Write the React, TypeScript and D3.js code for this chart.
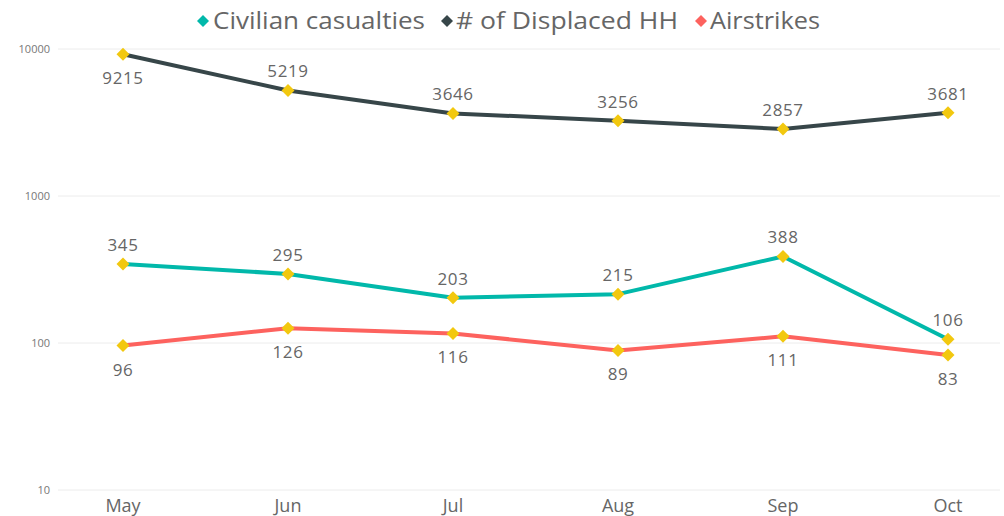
import React from "react";
import * as d3 from "d3";

const months = ["May", "Jun", "Jul", "Aug", "Sep", "Oct"];
const civilian = [345, 295, 203, 215, 388, 106];
const displaced = [9215, 5219, 3646, 3256, 2857, 3681];
const airstrikes = [96, 126, 116, 89, 111, 83];
const yTicks = [10, 100, 1000, 10000];

const seriesNames = ["Civilian casualties", "# of Displaced HH", "Airstrikes"];
const seriesColors = ["#01B8AA", "#374649", "#FD625E"];
const markerColor = "#F2C80F";

const W = 1004, H = 516;
const FONT = "'Segoe UI', 'Open Sans', 'Noto Sans', sans-serif";

export default function App() {
  const x = d3.scalePoint<string>().domain(months).range([123, 948]);
  const y = d3.scaleLog().domain([10, 10000]).range([490, 49]);
  const line = d3.line<number>().x((_, i) => x(months[i])!).y((d) => y(d));

  const series = [
    { name: seriesNames[0], color: seriesColors[0], data: civilian, pos: (i: number) => "above" },
    { name: seriesNames[1], color: seriesColors[1], data: displaced, pos: (i: number) => (i === 0 ? "below" : "above") },
    { name: seriesNames[2], color: seriesColors[2], data: airstrikes, pos: (i: number) => "below" },
  ];

  const diamond = (cx: number, cy: number, r: number) =>
    `M${cx},${cy - r}L${cx + r},${cy}L${cx},${cy + r}L${cx - r},${cy}Z`;

  const legendItems = [
    { x: 203, textX: 213, len: 212 },
    { x: 447, textX: 456, len: 222 },
    { x: 701, textX: 710, len: 110 },
  ];

  return (
    <div style={{ position: "absolute", left: 0, top: 0 }}>
      <svg width={W} height={H} style={{ display: "block", fontFamily: FONT }}>
        <rect width={W} height={H} fill="#fff" />
        {yTicks.map((t) => (
          <g key={t}>
            <line x1={58} x2={1000} y1={y(t)} y2={y(t)} stroke="#ececec" strokeWidth={1} />
            <text x={50} y={y(t)} dy="0.35em" textAnchor="end" fontSize={11} fill="#777">
              {t}
            </text>
          </g>
        ))}
        {months.map((m) => (
          <text key={m} x={x(m)!} y={506} dy="0.35em" textAnchor="middle" fontSize={18} fill="#666">
            {m}
          </text>
        ))}
        {series.map((s) => (
          <path key={s.name} d={line(s.data)!} fill="none" stroke={s.color} strokeWidth={4} strokeLinejoin="round" />
        ))}
        {series.map((s) =>
          s.data.map((v, i) => {
            const cx = x(months[i])!;
            const cy = y(v);
            const above = s.pos(i) === "above";
            return (
              <g key={s.name + i}>
                <path d={diamond(cx, cy, 6.5)} fill={markerColor} />
                <text
                  x={cx}
                  y={above ? cy - 19 : cy + 24}
                  dy="0.35em"
                  textAnchor="middle"
                  fontSize={17}
                  letterSpacing={0.6}
                  fill="#666"
                >
                  {v}
                </text>
              </g>
            );
          })
        )}
        {series.map((s, i) => (
          <g key={"leg" + i}>
            <path d={diamond(legendItems[i].x, 21, 6)} fill={s.color} />
            <text
              x={legendItems[i].textX}
              y={21}
              dy="0.35em"
              fontSize={24}
              fill="#666"
              textLength={legendItems[i].len}
              lengthAdjust="spacingAndGlyphs"
            >
              {s.name}
            </text>
          </g>
        ))}
      </svg>
    </div>
  );
}
